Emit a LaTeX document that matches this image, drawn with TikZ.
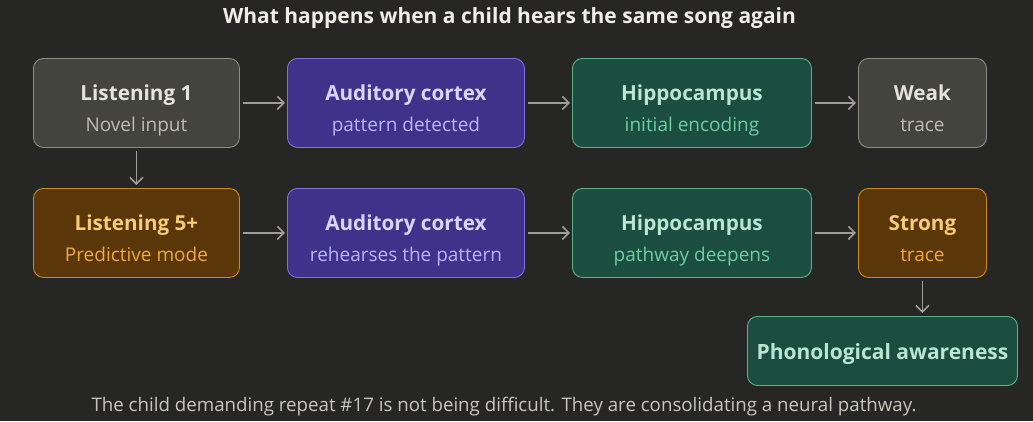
\documentclass[tikz,border=0pt]{standalone}
\usepackage{fontspec}
\setmainfont{Open Sans}
\usetikzlibrary{arrows.meta}
\definecolor{bg}{HTML}{262624}
\definecolor{grayfill}{HTML}{44443F}
\definecolor{graydraw}{HTML}{8C8B85}
\definecolor{graytitle}{HTML}{E5E3DC}
\definecolor{graysub}{HTML}{BDBBB4}
\definecolor{purpfill}{HTML}{40318A}
\definecolor{purpdraw}{HTML}{7F72D6}
\definecolor{purptitle}{HTML}{DAD5FF}
\definecolor{purpsub}{HTML}{BDB4F7}
\definecolor{greenfill}{HTML}{1B4D40}
\definecolor{greendraw}{HTML}{5DB08E}
\definecolor{greentitle}{HTML}{B9E6D3}
\definecolor{greensub}{HTML}{6ECDA5}
\definecolor{brownfill}{HTML}{5A3608}
\definecolor{browndraw}{HTML}{CC8A20}
\definecolor{browntitle}{HTML}{F6CB7A}
\definecolor{brownsub}{HTML}{F0A93A}
\definecolor{arrowc}{HTML}{A09E98}
\definecolor{headc}{HTML}{F0EEE8}
\definecolor{footc}{HTML}{C8C6BE}
\tikzset{
  box/.style={rounded corners=10pt, line width=0.9pt, inner sep=0pt, anchor=north west},
  graybox/.style={box, fill=grayfill, draw=graydraw},
  purpbox/.style={box, fill=purpfill, draw=purpdraw},
  greenbox/.style={box, fill=greenfill, draw=greendraw},
  brownbox/.style={box, fill=brownfill, draw=browndraw},
  ttl/.style={font=\fontsize{20.7}{24}\selectfont\bfseries, inner sep=0pt, anchor=base},
  sub/.style={font=\fontsize{19}{22}\selectfont, inner sep=0pt, anchor=base},
  conn/.style={draw=arrowc, line width=1.6pt, -{Straight Barb[length=6.5pt,width=13pt,line width=1.6pt]}},
}
\begin{document}
\begin{tikzpicture}[x=1pt,y=-1pt]
\fill[bg] (0,0) rectangle (1033,421);
\useasboundingbox (0,0) rectangle (1033,421);
\node[font=\fontsize{21}{25}\selectfont\bfseries, text=headc, anchor=base] (title) at (509.5,23) {What happens when a child hears the same song again};
% row 1
\node[graybox, minimum width=206pt, minimum height=89pt] (l1) at (33,58) {};
\node[purpbox, minimum width=237pt, minimum height=89pt] (ac1) at (287,58) {};
\node[greenbox, minimum width=239pt, minimum height=89pt] (h1) at (572,58) {};
\node[graybox, minimum width=128pt, minimum height=89pt] (w) at (858,58) {};
% row 2
\node[brownbox, minimum width=206pt, minimum height=89pt] (l5) at (33,188) {};
\node[purpbox, minimum width=237pt, minimum height=89pt] (ac2) at (287,188) {};
\node[greenbox, minimum width=239pt, minimum height=89pt] (h2) at (572,188) {};
\node[brownbox, minimum width=128pt, minimum height=89pt] (s) at (858,188) {};
\node[greenbox, minimum width=270pt, minimum height=69pt] (pa) at (747,316) {};
\coordinate (patop) at (s.south |- pa.north);
% texts row 1
\node[ttl, text=graytitle] (l1t) at ([yshift=2pt]l1.center) {Listening 1};
\node[sub, text=graysub] (l1s) at ([yshift=-29pt]l1.center) {Novel input};
\node[ttl, text=purptitle] (ac1t) at ([yshift=2pt]ac1.center) {Auditory cortex};
\node[sub, text=purpsub] (ac1s) at ([yshift=-29pt]ac1.center) {pattern detected};
\node[ttl, text=greentitle] (h1t) at ([yshift=2pt]h1.center) {Hippocampus};
\node[sub, text=greensub] (h1s) at ([yshift=-29pt]h1.center) {initial encoding};
\node[ttl, text=graytitle] (wt) at ([yshift=2pt]w.center) {Weak};
\node[sub, text=graysub] (ws) at ([yshift=-29pt]w.center) {trace};
% texts row 2
\node[ttl, text=browntitle] (l5t) at ([yshift=2pt]l5.center) {Listening 5+};
\node[sub, text=brownsub] (l5s) at ([yshift=-29pt]l5.center) {Predictive mode};
\node[ttl, text=purptitle] (ac2t) at ([yshift=2pt]ac2.center) {Auditory cortex};
\node[sub, text=purpsub] (ac2s) at ([yshift=-29pt]ac2.center) {rehearses the pattern};
\node[ttl, text=greentitle] (h2t) at ([yshift=2pt]h2.center) {Hippocampus};
\node[sub, text=greensub] (h2s) at ([yshift=-29pt]h2.center) {pathway deepens};
\node[ttl, text=browntitle] (st) at ([yshift=2pt]s.center) {Strong};
\node[sub, text=brownsub] (ss) at ([yshift=-29pt]s.center) {trace};
\node[ttl, font=\fontsize{21}{25}\selectfont\bfseries, text=greentitle] (pat) at ([yshift=-8.5pt]pa.center) {Phonological awareness};
% footer
\node[font=\fontsize{18.7}{22}\selectfont, text=footc, anchor=base] (foot) at (504,411) {The child demanding repeat \#17 is not being difficult. They are consolidating a neural pathway.};
% connectors
\draw[conn] ([xshift=3pt]l1.east) -- ([xshift=-2pt]ac1.west);
\draw[conn] ([xshift=3pt]ac1.east) -- ([xshift=-2pt]h1.west);
\draw[conn] ([xshift=3pt]h1.east) -- ([xshift=-2pt]w.west);
\draw[conn] ([xshift=3pt]l5.east) -- ([xshift=-2pt]ac2.west);
\draw[conn] ([xshift=3pt]ac2.east) -- ([xshift=-2pt]h2.west);
\draw[conn] ([xshift=3pt]h2.east) -- ([xshift=-2pt]s.west);
\draw[conn] ([yshift=-3pt]l1.south) -- ([yshift=3pt]l5.north);
\draw[conn] ([yshift=-3pt]s.south) -- ([yshift=3pt]patop);
\end{tikzpicture}
\end{document}
